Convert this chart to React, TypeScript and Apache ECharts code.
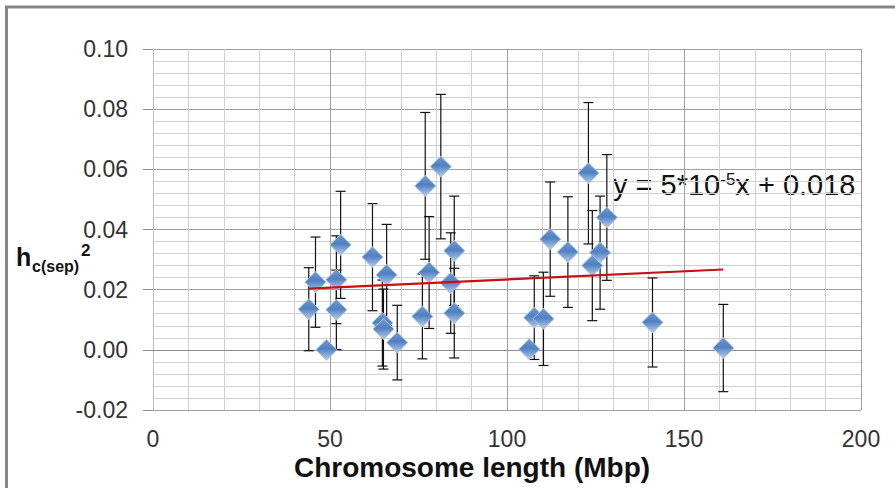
import React, { useEffect, useRef } from "react";
import * as echarts from "echarts";

// Chromosome length (Mbp)
const xValues = [44.0, 45.9, 49.0, 53.0, 51.8, 51.8, 62.0, 66.0, 64.8, 65.1, 69.0, 76.9, 81.3, 78.0, 76.1, 85.1, 84.1, 85.1, 106.3, 107.7, 110.3, 112.2, 117.2, 123.0, 124.1, 126.3, 128.2, 141.1, 161.1];
// h_c(sep)^2
const yValues = [0.0135, 0.0225, 0.0, 0.0349, 0.0233, 0.0133, 0.0308, 0.0249, 0.0089, 0.0069, 0.0024, 0.0545, 0.0609, 0.0257, 0.0111, 0.0329, 0.0222, 0.0122, 0.0002, 0.0107, 0.0103, 0.0368, 0.0325, 0.0587, 0.028, 0.0323, 0.044, 0.0091, 0.0006];
// error bar half-widths
const errValues = [0.0138, 0.015, 0.0, 0.0178, 0.0146, 0.0132, 0.0178, 0.0168, 0.0143, 0.0133, 0.0124, 0.0244, 0.024, 0.0186, 0.0141, 0.0182, 0.0167, 0.0149, 0.0, 0.0139, 0.0155, 0.019, 0.0184, 0.0235, 0.0183, 0.0188, 0.0209, 0.0148, 0.0145];

const trendSlope = 0.000054;
const trendIntercept = 0.018;

const xTicks = [0, 50, 100, 150, 200];
const yTicks = [-0.02, 0.0, 0.02, 0.04, 0.06, 0.08, 0.1];

const xTitle = "Chromosome length (Mbp)";
const equationMain1 = "y = 5*10";
const equationSup = "-5";
const equationMain2 = "x + 0.018";

const FONT = "'Liberation Sans', Arial, sans-serif";

export default function App() {
  const ref = useRef<HTMLDivElement>(null);

  useEffect(() => {
    if (!ref.current) return;
    const chart = echarts.init(ref.current, undefined, { renderer: "svg" });

    const points = xValues.map((x, i) => [x, yValues[i]]);
    const errData = xValues.map((x, i) => [x, yValues[i], errValues[i]]);
    const xMinData = Math.min(...xValues);
    const xMaxData = Math.max(...xValues);
    const trend = [
      [xMinData, trendIntercept + trendSlope * xMinData],
      [xMaxData, trendIntercept + trendSlope * xMaxData],
    ];

    const option: any = {
      animation: false,
      backgroundColor: "#ffffff",
      grid: { left: 153, top: 49, width: 708, height: 361, containLabel: false },
      xAxis: {
        type: "value",
        min: xTicks[0],
        max: xTicks[xTicks.length - 1],
        interval: 50,
        axisLine: { show: true, lineStyle: { color: "#8c8c8c", width: 1 } },
        axisTick: { show: false },
        axisLabel: { fontFamily: FONT, fontSize: 23, color: "#333333", margin: 17 },
        splitLine: { show: true, lineStyle: { color: "#a0a0a0", width: 1 } },
        minorTick: { show: false, splitNumber: 5 },
        minorSplitLine: { show: true, lineStyle: { color: "#d0d0d0", width: 1 } },
      },
      yAxis: {
        type: "value",
        min: yTicks[0],
        max: yTicks[yTicks.length - 1],
        interval: 0.02,
        axisLine: { show: true, lineStyle: { color: "#bdbdbd", width: 1 } },
        axisTick: { show: true, length: 10, lineStyle: { color: "#8c8c8c" } },
        axisLabel: {
          fontFamily: FONT,
          fontSize: 23,
          color: "#333333",
          margin: 25,
          formatter: (v: number) => v.toFixed(2),
        },
        splitLine: { show: true, lineStyle: { color: "#a0a0a0", width: 1 } },
        minorTick: { show: false, splitNumber: 5 },
        minorSplitLine: { show: true, lineStyle: { color: "#d0d0d0", width: 1 } },
      },
      series: [
        {
          type: "custom",
          z: 2,
          data: errData,
          encode: { x: 0, y: 1 },
          renderItem: (params: any, api: any) => {
            const x = api.value(0);
            const y = api.value(1);
            const e = api.value(2);
            if (!e) return { type: "group", children: [] };
            const top = api.coord([x, y + e]);
            const bot = api.coord([x, y - e]);
            const cap = 5;
            const st = { stroke: "#111111", lineWidth: 1.2 };
            return {
              type: "group",
              children: [
                { type: "line", shape: { x1: top[0], y1: top[1], x2: bot[0], y2: bot[1] }, style: st },
                { type: "line", shape: { x1: top[0] - cap, y1: top[1], x2: top[0] + cap, y2: top[1] }, style: st },
                { type: "line", shape: { x1: bot[0] - cap, y1: bot[1], x2: bot[0] + cap, y2: bot[1] }, style: st },
              ],
            };
          },
        },
        {
          type: "scatter",
          z: 3,
          symbol: "diamond",
          symbolSize: 21,
          data: points,
          itemStyle: {
            color: new echarts.graphic.LinearGradient(0, 0, 0, 1, [
              { offset: 0, color: "#6f9bd2" },
              { offset: 0.45, color: "#4f80c2" },
              { offset: 1, color: "#b9cfec" },
            ]),
            borderColor: "#a9c3e6",
            borderWidth: 1,
            opacity: 1,
          },
        },
        {
          type: "line",
          z: 4,
          data: trend,
          symbol: "none",
          lineStyle: { color: "#c41212", width: 2.2 },
        },
      ],
      graphic: [
        {
          type: "rect",
          silent: true,
          z: 100,
          shape: { x: 6.5, y: 7, width: 900, height: 500 },
          style: { fill: "none", stroke: "#878787", lineWidth: 3 },
        },
        {
          type: "text",
          x: 472,
          y: 467,
          style: {
            text: xTitle,
            font: `bold 28px ${FONT}`,
            fill: "#111111",
            textAlign: "center",
            textVerticalAlign: "middle",
          },
        },
        {
          type: "text",
          x: 16,
          y: 257,
          style: { text: "h", font: `bold 25px ${FONT}`, fill: "#111111", textAlign: "left", textVerticalAlign: "middle" },
        },
        {
          type: "text",
          x: 32,
          y: 266,
          style: { text: "c(sep)", font: `bold 16px ${FONT}`, fill: "#111111", textAlign: "left", textVerticalAlign: "middle" },
        },
        {
          type: "text",
          x: 81,
          y: 250,
          style: { text: "2", font: `bold 17px ${FONT}`, fill: "#111111", textAlign: "left", textVerticalAlign: "middle" },
        },
        {
          type: "text",
          x: 613,
          y: 185,
          style: {
            text: `{m|${equationMain1}}{s|${equationSup}}{m|${equationMain2}}`,
            textAlign: "left",
            textVerticalAlign: "middle",
            rich: {
              m: { fontFamily: FONT, fontSize: 29, fill: "#111111", verticalAlign: "bottom" },
              s: { fontFamily: FONT, fontSize: 17, fill: "#111111", verticalAlign: "top" },
            },
          },
        },
      ],
    };

    chart.setOption(option);
    return () => chart.dispose();
  }, []);

  return (
    <div
      ref={ref}
      style={{ position: "fixed", left: 0, top: 0, width: "895px", height: "488px" }}
    />
  );
}
